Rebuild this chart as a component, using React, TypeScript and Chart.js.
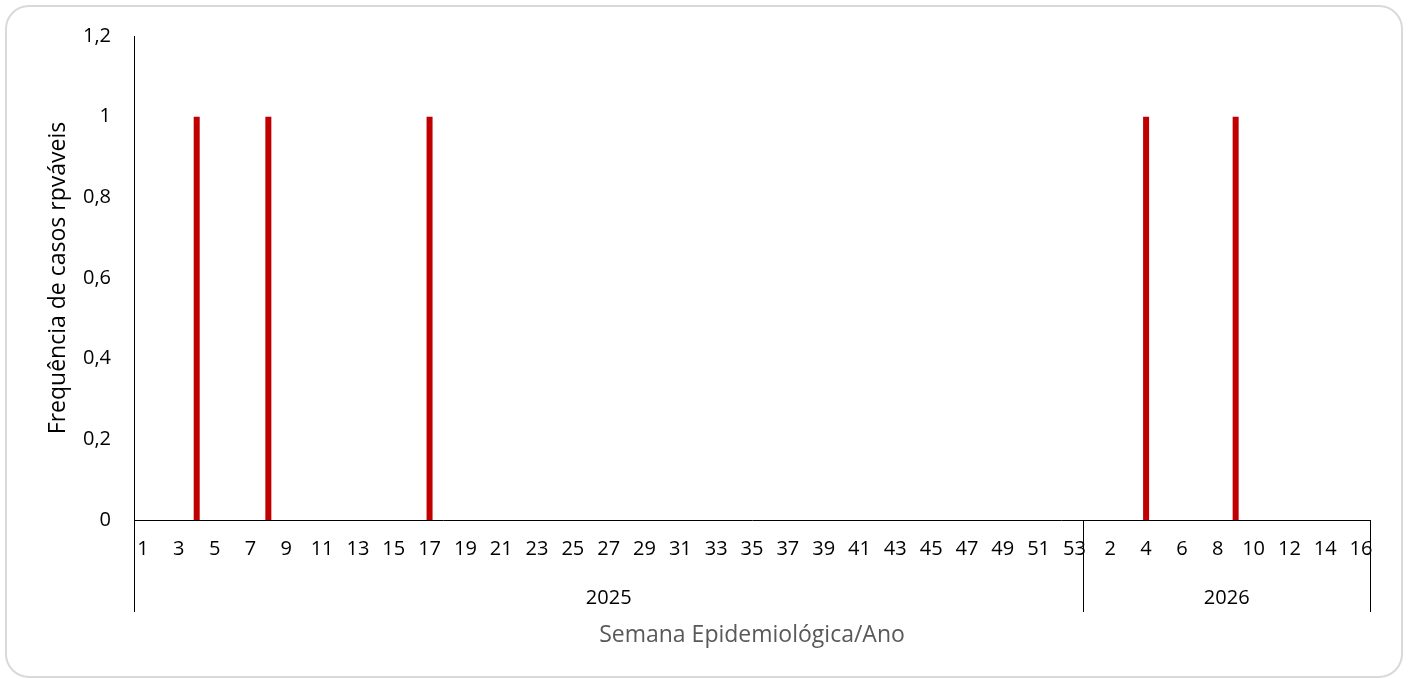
import React, { useEffect, useRef } from "react";
import { Chart, registerables } from "chart.js";

Chart.register(...registerables);

const weeks2025 = [
  "1", "2", "3", "4", "5", "6", "7", "8", "9", "10", "11", "12", "13", "14", "15", "16", "17", "18", "19", "20",
  "21", "22", "23", "24", "25", "26", "27", "28", "29", "30", "31", "32", "33", "34", "35", "36", "37", "38", "39", "40",
  "41", "42", "43", "44", "45", "46", "47", "48", "49", "50", "51", "52", "53",
];
const weeks2026 = ["1", "2", "3", "4", "5", "6", "7", "8", "9", "10", "11", "12", "13", "14", "15", "16"];

const cases2025 = [
  0, 0, 0, 1, 0, 0, 0, 1, 0, 0, 0, 0, 0, 0, 0, 0, 1, 0, 0, 0,
  0, 0, 0, 0, 0, 0, 0, 0, 0, 0, 0, 0, 0, 0, 0, 0, 0, 0, 0, 0,
  0, 0, 0, 0, 0, 0, 0, 0, 0, 0, 0, 0, 0,
];
const cases2026 = [0, 0, 0, 1, 0, 0, 0, 0, 1, 0, 0, 0, 0, 0, 0, 0];

const years = ["2025", "2026"];
const yearWeeks = [weeks2025, weeks2026];

const yTitle = "Frequência de casos rpváveis";
const xTitle = "Semana Epidemiológica/Ano";

const FONT = "'Open Sans', 'DejaVu Sans', sans-serif";

export default function App() {
  const ref = useRef<HTMLCanvasElement | null>(null);

  useEffect(() => {
    if (!ref.current) return;
    const labels = [...weeks2025, ...weeks2026];
    const values = [...cases2025, ...cases2026];

    const groupPlugin = {
      id: "groupAxis",
      afterDraw(chart: any) {
        const xs = chart.scales.x;
        const ctx = chart.ctx;
        const bottom = chart.chartArea.bottom;
        const lineEnd = bottom + 92;
        const n = labels.length;
        const boundary = (i: number) => {
          if (i <= 0) return xs.left;
          if (i >= n) return xs.right;
          return (xs.getPixelForTick(i - 1) + xs.getPixelForTick(i)) / 2;
        };
        ctx.save();
        ctx.strokeStyle = "#000000";
        ctx.lineWidth = 1;
        ctx.fillStyle = "#000000";
        ctx.font = `20px ${FONT}`;
        ctx.textAlign = "center";
        ctx.textBaseline = "middle";
        let start = 0;
        const edges: number[] = [boundary(0)];
        yearWeeks.forEach((wk, gi) => {
          const end = start + wk.length;
          const x0 = boundary(start);
          const x1 = boundary(end);
          edges.push(x1);
          ctx.fillText(years[gi], (x0 + x1) / 2, bottom + 78);
          start = end;
        });
        edges.forEach((x) => {
          const px = Math.round(x) + 0.5;
          ctx.beginPath();
          ctx.moveTo(px, bottom);
          ctx.lineTo(px, lineEnd);
          ctx.stroke();
        });
        ctx.restore();
      },
    };

    const chart = new Chart(ref.current, {
      type: "bar",
      data: {
        labels,
        datasets: [
          {
            data: values,
            backgroundColor: "#C00000",
            borderWidth: 0,
            barThickness: 6,
            inflateAmount: 0,
          },
        ],
      },
      plugins: [groupPlugin],
      options: {
        animation: false,
        responsive: false,
        maintainAspectRatio: false,
        layout: { padding: { top: 36, right: 39, left: 0, bottom: 0 } },
        plugins: {
          legend: { display: false },
          tooltip: { enabled: false },
        },
        scales: {
          x: {
            type: "category",
            offset: true,
            grid: { display: false, drawTicks: false },
            border: { display: true, color: "#000000", width: 1 },
            ticks: {
              autoSkip: false,
              maxRotation: 0,
              minRotation: 0,
              padding: 17,
              color: "#000000",
              font: { family: FONT, size: 20 },
              callback: (_v: any, i: number) => (i % 2 === 0 ? labels[i] : ""),
            },
            title: {
              display: true,
              text: xTitle,
              color: "#595959",
              font: { family: FONT, size: 23 },
              padding: { top: 0, bottom: 30 },
            },
            afterFit: (s: any) => {
              s.height = 159;
            },
          },
          y: {
            min: 0,
            max: 1.2,
            grid: { display: false, drawTicks: false },
            border: { display: true, color: "#000000", width: 1 },
            ticks: {
              stepSize: 0.2,
              padding: 23,
              color: "#000000",
              font: { family: FONT, size: 20 },
              callback: (v: any) => {
                const r = Math.round(Number(v) * 10) / 10;
                return String(r).replace(".", ",");
              },
            },
            title: {
              display: true,
              text: yTitle,
              color: "#000000",
              font: { family: FONT, size: 23 },
              padding: { top: 45, bottom: 0 },
            },
            afterFit: (s: any) => {
              s.width = 134;
            },
          },
        },
      },
    });
    return () => chart.destroy();
  }, []);

  return (
    <div style={{ position: "fixed", left: 0, top: 0, width: 1409, height: 679, background: "#ffffff" }}>
      <div
        style={{
          position: "absolute",
          left: 5,
          top: 5,
          width: 1398,
          height: 673,
          boxSizing: "border-box",
          border: "2px solid #d9d9d9",
          borderRadius: 24,
        }}
      />
      <canvas ref={ref} width={1409} height={679} style={{ position: "absolute", left: 0, top: 0, width: 1409, height: 679 }} />
    </div>
  );
}
